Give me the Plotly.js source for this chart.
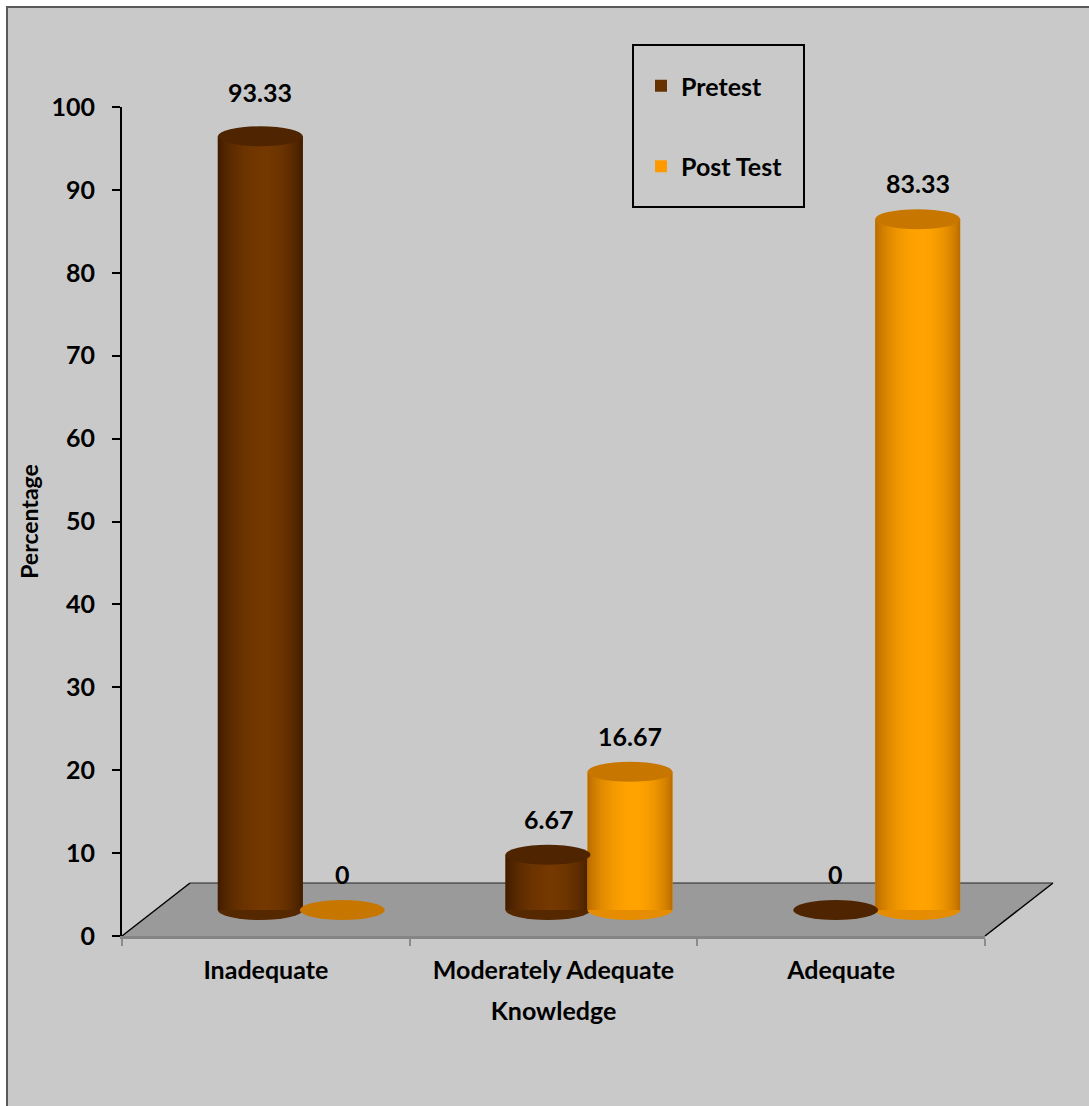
<!DOCTYPE html>
<html>
<head>
<meta charset="utf-8">
<script src="https://cdn.plot.ly/plotly-3.0.1.min.js"></script>
<style>html,body{margin:0;padding:0;background:#fff;}#chart{width:1089px;height:1106px;}</style>
</head>
<body>
<div id="chart"></div>
<script>
// ---- data ----
const categories = ['Inadequate', 'Moderately Adequate', 'Adequate'];
const seriesNames = ['Pretest', 'Post Test'];
const pretest = [93.33, 6.67, 0];
const posttest = [0, 16.67, 83.33];
const yTickVals = [0, 10, 20, 30, 40, 50, 60, 70, 80, 90, 100];
const xTitle = 'Knowledge';
const yTitle = 'Percentage';

// ---- styling ----
const FONT = 'Lato, "Open Sans", sans-serif';
const FS = 25;
const styles = [
  { dark: [0x3c, 0x1a, 0x00], light: [0x74, 0x38, 0x00], legend: '#663300', top: '#4e2500', bottom: '#552800' },
  { dark: [0xb5, 0x68, 0x00], light: [0xff, 0xa3, 0x00], legend: '#FF9900', top: '#C77700', bottom: '#E58C00' }
];
const L = 122, R = 985, T = 107, B = 936;      // plot area in px
const pxPerCat = (R - L) / categories.length;
const pxPerUnit = (B - T) / 100;
const depthY = 26 / pxPerUnit;   // half depth shift (value units)
const barW = 85 / pxPerCat;
const offsets = [-48 / pxPerCat, 34 / pxPerCat];  // left edge of each series relative to category centre
const ellH = 10 / pxPerUnit;     // ellipse half-height in value units
const N = 42;

function mix(a, b, s) {
  const c = a.map((v, i) => Math.round(v + (b[i] - v) * s));
  return 'rgb(' + c.join(',') + ')';
}
function shadeAt(t) {
  const u = t < 0.55 ? t / 0.55 * 0.5 : 0.5 + (t - 0.55) / 0.45 * 0.5;
  return Math.pow(Math.sin(Math.PI * u), 0.7);
}

const allSeries = [pretest, posttest];
const traces = [];
const shapes = [];
const annotations = [];

// background panel and floor (paper coords)
const W = R - L, H = B - T;
const px2x = p => (p - L) / W;
const px2y = p => (B - p) / H;
shapes.push({ type: 'rect', xref: 'paper', yref: 'paper', x0: px2x(7), x1: px2x(1100), y0: px2y(1120), y1: px2y(7),
  fillcolor: '#c9c9c9', line: { color: '#595959', width: 2 }, layer: 'below' });
const fdx = 68 / W, fdy = 53 / H;
shapes.push({ type: 'path', xref: 'paper', yref: 'paper', layer: 'below',
  path: `M 0,0 L 1,0 L ${1 + fdx},${fdy} L ${fdx},${fdy} Z`, fillcolor: '#9a9a9a', line: { width: 0 } });
shapes.push({ type: 'line', xref: 'paper', yref: 'paper', layer: 'below', x0: 0, y0: 0, x1: fdx, y1: fdy, line: { color: '#000', width: 1.5 } });
shapes.push({ type: 'line', xref: 'paper', yref: 'paper', layer: 'below', x0: 1, y0: 0, x1: 1 + fdx, y1: fdy, line: { color: '#000', width: 1.5 } });
shapes.push({ type: 'line', xref: 'paper', yref: 'paper', layer: 'below', x0: fdx, y0: fdy, x1: 1 + fdx, y1: fdy, line: { color: '#222', width: 1.2 } });

allSeries.forEach((vals, s) => {
  const st = styles[s];
  const base = vals.map(() => depthY);
  const group = 'g' + s;
  // main (legend) trace
  traces.push({
    type: 'bar', name: seriesNames[s], x: categories, y: vals, base: base,
    offset: offsets[s], width: barW, legendgroup: group,
    marker: { color: st.legend, line: { width: 0 } },
    hovertemplate: '%{x}<br>' + seriesNames[s] + ': %{y}<extra></extra>'
  });
  // shading strips
  const dw = barW / N;
  for (let k = 0; k < N; k++) {
    const t = (k + 0.5) / N;
    traces.push({
      type: 'bar', x: categories, y: vals, base: base, showlegend: false, legendgroup: group,
      offset: offsets[s] + k * dw, width: k < N - 1 ? dw * 1.6 : dw, hoverinfo: 'skip',
      marker: { color: mix(st.dark, st.light, shadeAt(t)), line: { width: 0 } }
    });
  }
  vals.forEach((v, i) => {
    const x0 = i + offsets[s], x1 = x0 + barW;
    if (v > 0) {
      shapes.push({ type: 'circle', xref: 'x', yref: 'y', layer: 'below', x0: x0, x1: x1,
        y0: depthY - ellH, y1: depthY + ellH, fillcolor: st.bottom, line: { width: 0 } });
    }
    shapes.push({ type: 'circle', xref: 'x', yref: 'y', layer: 'above', x0: x0, x1: x1,
      y0: depthY + v - ellH, y1: depthY + v + ellH, fillcolor: st.top, line: { width: 0 } });
    annotations.push({ xref: 'x', yref: 'y', x: (x0 + x1) / 2, y: depthY + v, yshift: v > 90 ? 44 : 36,
      text: String(v), showarrow: false, font: { family: FONT, size: FS, color: '#000', weight: 'bold' } });
  });
});

// legend frame
shapes.push({ type: 'rect', xref: 'paper', yref: 'paper', x0: px2x(633), x1: px2x(804), y0: px2y(207), y1: px2y(45),
  line: { color: '#000', width: 2 }, fillcolor: 'rgba(0,0,0,0)', layer: 'above' });

const layout = {
  width: 1089, height: 1106,
  paper_bgcolor: '#ffffff', plot_bgcolor: 'rgba(0,0,0,0)',
  margin: { l: L, r: 1089 - R, t: T, b: 1106 - B },
  barmode: 'overlay', showlegend: true,
  font: { family: FONT, size: FS, color: '#000', weight: 'bold' },
  legend: { x: px2x(641), y: px2y(63), xanchor: 'left', yanchor: 'top', bgcolor: 'rgba(0,0,0,0)',
    borderwidth: 0, traceorder: 'grouped', tracegroupgap: 45,
    font: { family: FONT, size: FS, color: '#000', weight: 'bold' } },
  xaxis: {
    type: 'category', range: [-0.5, 2.5], fixedrange: true,
    tickson: 'boundaries', ticks: 'outside', ticklen: 7, tickwidth: 2, tickcolor: '#8c8c8c',
    showline: true, linecolor: '#858585', linewidth: 3, showgrid: false, zeroline: false,
    ticklabelstandoff: 10,
    tickfont: { family: FONT, size: FS, color: '#000', weight: 'bold' },
    title: { text: xTitle, standoff: 20, font: { family: FONT, size: FS, color: '#000', weight: 'bold' } }
  },
  yaxis: {
    range: [0, 100], tickvals: yTickVals, fixedrange: true,
    ticks: 'outside', ticklen: 8, tickwidth: 2, tickcolor: '#000',
    showline: true, linecolor: '#000', linewidth: 2, showgrid: false, zeroline: false,
    ticklabelstandoff: 12,
    tickfont: { family: FONT, size: FS, color: '#000', weight: 'bold' },
    title: { text: yTitle, standoff: 6, font: { family: FONT, size: FS - 2, color: '#000', weight: 'bold' } }
  },
  shapes: shapes,
  annotations: annotations
};

Plotly.newPlot('chart', traces, layout, { displayModeBar: false, staticPlot: true });
</script>
</body>
</html>
